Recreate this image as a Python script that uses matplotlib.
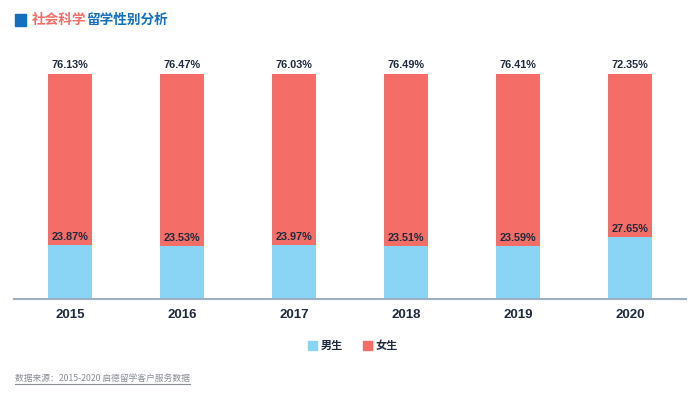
import matplotlib.pyplot as plt
from matplotlib.patches import Rectangle

plt.rcParams["font.family"] = ["Noto Sans CJK SC", "DejaVu Sans"]

years = ["2015", "2016", "2017", "2018", "2019", "2020"]
male = [23.87, 23.53, 23.97, 23.51, 23.59, 27.65]
female = [76.13, 76.47, 76.03, 76.49, 76.41, 72.35]

c_male = "#8AD4F5"
c_female = "#F46D67"
c_text = "#1F2A3C"
c_blue = "#1470BF"

fig = plt.figure(figsize=(6.99, 3.99), dpi=100)
ax = fig.add_axes([14 / 699, 100 / 399, 672 / 699, 225 / 399])

x = list(range(len(years)))
w = 0.385
ax.bar(x, male, width=w, color=c_male)
ax.bar(x, female, width=w, bottom=male, color=c_female)

for i in x:
    ax.text(i, male[i] + 1.3, f"{male[i]:.2f}%", ha="center", va="bottom",
            fontsize=7.8, fontweight="bold", color=c_text, family="Liberation Sans")
    ax.text(i, 101.6, f"{female[i]:.2f}%", ha="center", va="bottom",
            fontsize=7.8, fontweight="bold", color=c_text, family="Liberation Sans")

ax.set_xlim(-0.5, 5.5)
ax.set_ylim(0, 100)
ax.set_yticks([])
ax.set_xticks(x)
ax.set_xticklabels(years, fontsize=9.5, fontweight="bold", color=c_text, family="Liberation Sans")
ax.tick_params(axis="x", length=0, pad=7)
for s in ["top", "right", "left"]:
    ax.spines[s].set_visible(False)
ax.spines["bottom"].set_color("#9DB0C4")
ax.spines["bottom"].set_linewidth(1.5)

# title
fig.patches.append(Rectangle((15 / 699, 1 - 26 / 399), 11 / 699, 12 / 399,
                             transform=fig.transFigure, color=c_blue))
t1 = fig.text(32 / 699, 1 - 20 / 399, "社会科学", fontsize=9.8, fontweight="bold",
              color=c_female, va="center", ha="left")
fig.canvas.draw()
bb = t1.get_window_extent()
fig.text(bb.x1 / 699, 1 - 20 / 399, "留学性别分析", fontsize=9.8, fontweight="bold",
         color=c_blue, va="center", ha="left")

# legend
fig.patches.append(Rectangle((308 / 699, 1 - 350 / 399), 9 / 699, 9 / 399,
                             transform=fig.transFigure, color=c_male))
fig.text(321 / 699, 1 - 345.5 / 399, "男生", fontsize=8, fontweight="bold",
         color=c_text, va="center", ha="left")
fig.patches.append(Rectangle((363 / 699, 1 - 350 / 399), 9 / 699, 9 / 399,
                             transform=fig.transFigure, color=c_female))
fig.text(376 / 699, 1 - 345.5 / 399, "女生", fontsize=8, fontweight="bold",
         color=c_text, va="center", ha="left")

# source
src = fig.text(15 / 699, 1 - 378 / 399, "数据来源：2015-2020 启德留学客户服务数据",
               fontsize=6.3, style="italic", color="#8A8F96", va="center", ha="left")
fig.canvas.draw()
sb = src.get_window_extent()
fig.add_artist(plt.Line2D([sb.x0 / 699, sb.x1 / 699], [(sb.y0 - 1) / 399, (sb.y0 - 1) / 399],
                          transform=fig.transFigure, color="#8A8F96", linewidth=0.8))

fig.savefig("out.png", dpi=100)
